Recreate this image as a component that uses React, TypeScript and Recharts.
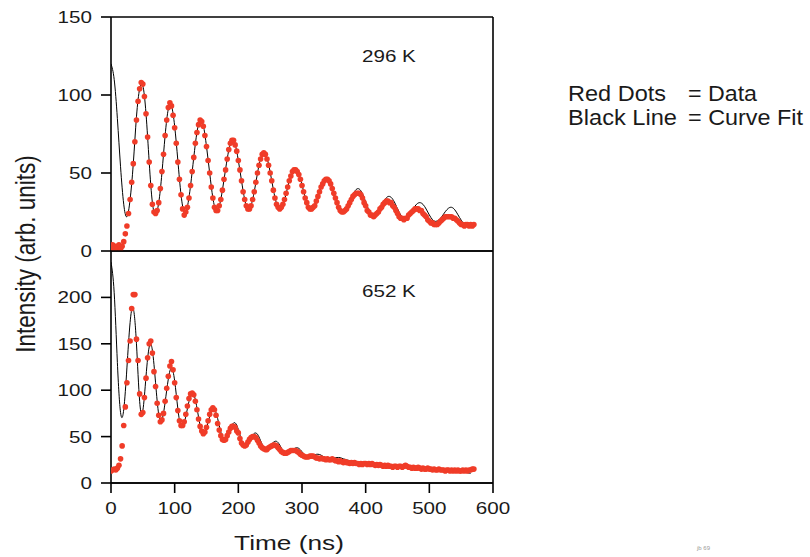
import React from 'react';
import { ComposedChart, Line, Scatter, XAxis, YAxis, ReferenceLine } from 'recharts';

const FONT = '"Liberation Sans", Arial, Helvetica, sans-serif';
const DATA_STEP = 2.5; // ns between measured samples
const FIT_STEP = 5; // ns between fit samples

const timeTicks = [0, 100, 200, 300, 400, 500, 600];
const ticks296 = [0, 50, 100, 150];
const ticks652 = [0, 50, 100, 150, 200];

// 296 K, measured (red dots), one row = 50 ns
const data296 = [
  2, 4, 1, 3, 2, 4, 1, 3, 6, 11, 16, 24, 33, 44, 56, 70, 84, 96, 104, 108,
  107, 99, 88, 73, 57, 42, 30, 25, 24, 26, 31, 40, 51, 62, 74, 84, 92, 95, 93, 87,
  79, 69, 57, 46, 36, 27, 23, 25, 28, 34, 42, 51, 60, 69, 76, 81, 84, 83, 80, 74,
  67, 58, 50, 41, 34, 28, 26, 26, 29, 33, 39, 46, 52, 59, 65, 69, 71, 71, 68, 64,
  58, 52, 45, 38, 33, 29, 27, 27, 29, 33, 38, 44, 50, 55, 59, 62, 63, 62, 59, 55,
  50, 45, 39, 34, 30, 28, 27, 28, 30, 33, 37, 41, 45, 48, 51, 52, 52, 51, 49, 46,
  42, 38, 34, 31, 28, 27, 27, 28, 29, 32, 35, 38, 41, 43, 45, 46, 46, 45, 43, 40,
  37, 34, 31, 28, 26, 25, 25, 26, 27, 29, 31, 33, 35, 36, 37, 37, 37, 36, 34, 31,
  29, 26, 25, 23, 23, 22, 23, 24, 25, 27, 28, 30, 31, 32, 32, 31, 31, 29, 28, 26,
  24, 22, 21, 21, 20, 21, 21, 23, 24, 25, 26, 27, 27, 27, 26, 26, 24, 23, 22, 20,
  19, 18, 18, 17, 17, 17, 18, 19, 20, 21, 22, 22, 22, 22, 22, 21, 21, 20, 19, 18,
  17, 17, 16, 17, 17, 16, 17, 16, 17,
];

// 296 K, curve fit (black line)
const fit296 = [
  120, 110, 85, 54, 30, 22, 33, 56, 86, 104,
  106, 88, 57, 31, 24, 31, 50, 74, 91, 93,
  80, 58, 36, 25, 28.5, 42, 60, 76, 83.8, 80.5,
  67, 50, 34, 26.2, 28.7, 39, 52.5, 64.7, 71, 68.4,
  58, 45, 33, 27.1, 29.4, 38, 49.7, 59.3, 63, 59.6,
  50.6, 39.4, 30.4, 27, 29.6, 36.6, 45, 51.2, 53, 49.5,
  42.4, 34.5, 28.6, 27, 29.6, 34.8, 40.5, 44.9, 46, 43.2,
  37.4, 31.1, 26.3, 25, 27.2, 31.5, 36.2, 39.4, 39.7, 36.7,
  31.5, 26.3, 23.3, 23.4, 25.8, 29.4, 32.8, 34.9, 34.4, 31.5,
  27.1, 23.1, 21, 21.7, 24.1, 27.3, 30, 31, 29.9, 26.9,
  23.1, 20.1, 19, 19.9, 22.3, 25.2, 27.4, 28, 26.4, 23.2,
  19.8, 17.4, 17, 17.5,
];

// 652 K, measured
const data652 = [
  13, 14, 15, 14, 16, 19, 26, 40, 62, 82, 108, 132, 153, 188, 203, 203, 155, 132, 96, 74,
  76, 92, 113, 135, 150, 153, 140, 120, 104, 86, 73, 66, 68, 75, 88, 102, 115, 126, 131, 122,
  108, 92, 78, 67, 62, 62, 66, 74, 83, 91, 96, 97, 95, 88, 79, 69, 61, 56, 53, 55,
  60, 67, 74, 79, 81, 79, 73, 64, 57, 51, 47, 46, 47, 51, 55, 59, 61, 61, 60, 56,
  54, 48, 43, 41, 40, 41, 44, 47, 49, 50, 50, 49, 46, 43, 40, 38, 37, 36, 36, 38,
  39, 40, 41, 41, 40, 38, 36, 34, 33, 32, 32, 33, 34, 35, 35, 35, 35, 34, 33, 31,
  30, 29, 28, 28, 28, 29, 29, 29, 28, 27, 27, 26, 27, 26, 26, 25, 26, 25, 25, 26,
  25, 24, 24, 23, 24, 23, 22, 23, 22, 22, 21, 22, 21, 22, 21, 21, 20, 21, 20, 21,
  21, 20, 21, 20, 21, 20, 19, 20, 19, 20, 19, 18, 19, 18, 19, 18, 18, 17, 18, 18,
  17, 18, 18, 17, 18, 19, 18, 17, 17, 16, 17, 16, 16, 17, 16, 15, 16, 15, 15, 16,
  15, 15, 14, 15, 14, 14, 15, 14, 14, 14, 13, 14, 14, 13, 14, 13, 14, 13, 14, 13,
  13, 14, 13, 14, 13, 14, 14, 15, 15,
];

// 652 K, curve fit
const fit652 = [
  238, 205, 130, 76, 79, 124, 173, 188, 150, 88,
  78, 115, 146.5, 143, 108, 73.6, 68, 87, 112, 124,
  110, 80, 60.6, 64.8, 80, 94, 95.5, 81, 62, 53,
  59, 71.6, 79.7, 75.7, 62, 49.6, 47.7, 54.2, 62.4, 64.8,
  57.6, 46.3, 41, 43.5, 49.3, 53.5, 52.6, 45.5, 38.5, 37.3,
  40.2, 43.8, 44.9, 41, 34.9, 32, 33.2, 35.8, 37.8, 37.3,
  33.7, 29.8, 28.5, 29.3, 30.5, 31, 30, 27.8, 26.2, 26.2,
  26.8, 27.4, 27.3, 26, 25, 24, 23.5, 23.2, 23, 22.5,
  22, 21.6, 21.3, 21, 20.6, 20.3, 20, 19.6, 19.3, 19,
  18.7, 18.3, 18, 17.6, 17.2, 16.8, 16.3, 15.9, 15.5, 15.1,
  14.8, 14.5, 14.2, 13.8, 13.5, 13.2, 13, 12.7, 12.4, 12.2,
  12, 11.6, 11, 10.5,
];

const toPoints = (values: number[], step: number) => values.map((v, i) => ({ t: i * step, v }));

const RED = '#f03c28';
const AXIS = { stroke: '#000', strokeWidth: 1.6 };

const redDot = (p: any) => <circle cx={p.cx} cy={p.cy} r={2.8} fill={RED} />;

const yTick = (p: any) => (
  <text transform={`translate(${p.x},${p.y + 6}) scale(1.25,1)`} textAnchor="end" fontSize={16.5} fontFamily={FONT} fill="#1a1a1a">
    {p.payload.value}
  </text>
);

const xTick = (p: any) => (
  <text transform={`translate(${p.x},${p.y + 21}) scale(1.25,1)`} textAnchor="middle" fontSize={16.5} fontFamily={FONT} fill="#1a1a1a">
    {p.payload.value}
  </text>
);

function Panel({ top, bottom, max, ticks, data, fit, showX }: any) {
  return (
    <div style={{ position: 'absolute', left: 0, top: 0 }}>
      <ComposedChart width={810} height={557} margin={{ top, right: 317, bottom, left: 51 }}>
        <XAxis
          type="number"
          dataKey="t"
          domain={[0, 600]}
          ticks={timeTicks}
          interval={0}
          allowDataOverflow
          hide={!showX}
          height={30}
          tickSize={10}
          tickMargin={0}
          axisLine={AXIS}
          tickLine={AXIS}
          tick={xTick}
        />
        <YAxis
          type="number"
          domain={[0, max]}
          ticks={ticks}
          interval={0}
          allowDataOverflow
          width={60}
          tickSize={10}
          tickMargin={9}
          axisLine={AXIS}
          tickLine={AXIS}
          tick={yTick}
        />
        <ReferenceLine y={max} {...AXIS} />
        <ReferenceLine y={0} {...AXIS} />
        <ReferenceLine x={600} {...AXIS} />
        <Line data={toPoints(fit, FIT_STEP)} dataKey="v" type="natural" stroke="#000" strokeWidth={1} dot={false} isAnimationActive={false} />
        <Scatter data={toPoints(data, DATA_STEP)} dataKey="v" fill={RED} shape={redDot} isAnimationActive={false} />
      </ComposedChart>
    </div>
  );
}

export default function App() {
  return (
    <div style={{ position: 'absolute', left: 0, top: 0, width: 810, height: 557, background: '#fff', fontFamily: FONT }}>
      <Panel top={17} bottom={306} max={150} ticks={ticks296} data={data296} fit={fit296} showX={false} />
      <Panel top={251} bottom={44} max={250} ticks={ticks652} data={data652} fit={fit652} showX />
      <svg width={810} height={557} style={{ position: 'absolute', left: 0, top: 0, pointerEvents: 'none' }}>
        <g fontFamily={FONT} fill="#1a1a1a">
          <text transform="translate(362,62) scale(1.25,1)" fontSize={16.5}>296 K</text>
          <text transform="translate(362,297) scale(1.25,1)" fontSize={16.5}>652 K</text>
          <text transform="translate(35,254) scale(1.25,1) rotate(-90)" textAnchor="middle" fontSize={22.5}>Intensity (arb. units)</text>
          <text transform="translate(289,550) scale(1.25,1)" textAnchor="middle" fontSize={21}>Time (ns)</text>
          <text x={568} y={101} fontSize={22} textLength={98} lengthAdjust="spacingAndGlyphs">Red Dots</text>
          <text x={688} y={101} fontSize={22} textLength={69} lengthAdjust="spacingAndGlyphs">= Data</text>
          <text x={568} y={125} fontSize={22} textLength={109} lengthAdjust="spacingAndGlyphs">Black Line</text>
          <text x={688} y={125} fontSize={22} textLength={115} lengthAdjust="spacingAndGlyphs">= Curve Fit</text>
          <text x={697} y={550} fontSize={6} fill="#999">jb 69</text>
        </g>
      </svg>
    </div>
  );
}
